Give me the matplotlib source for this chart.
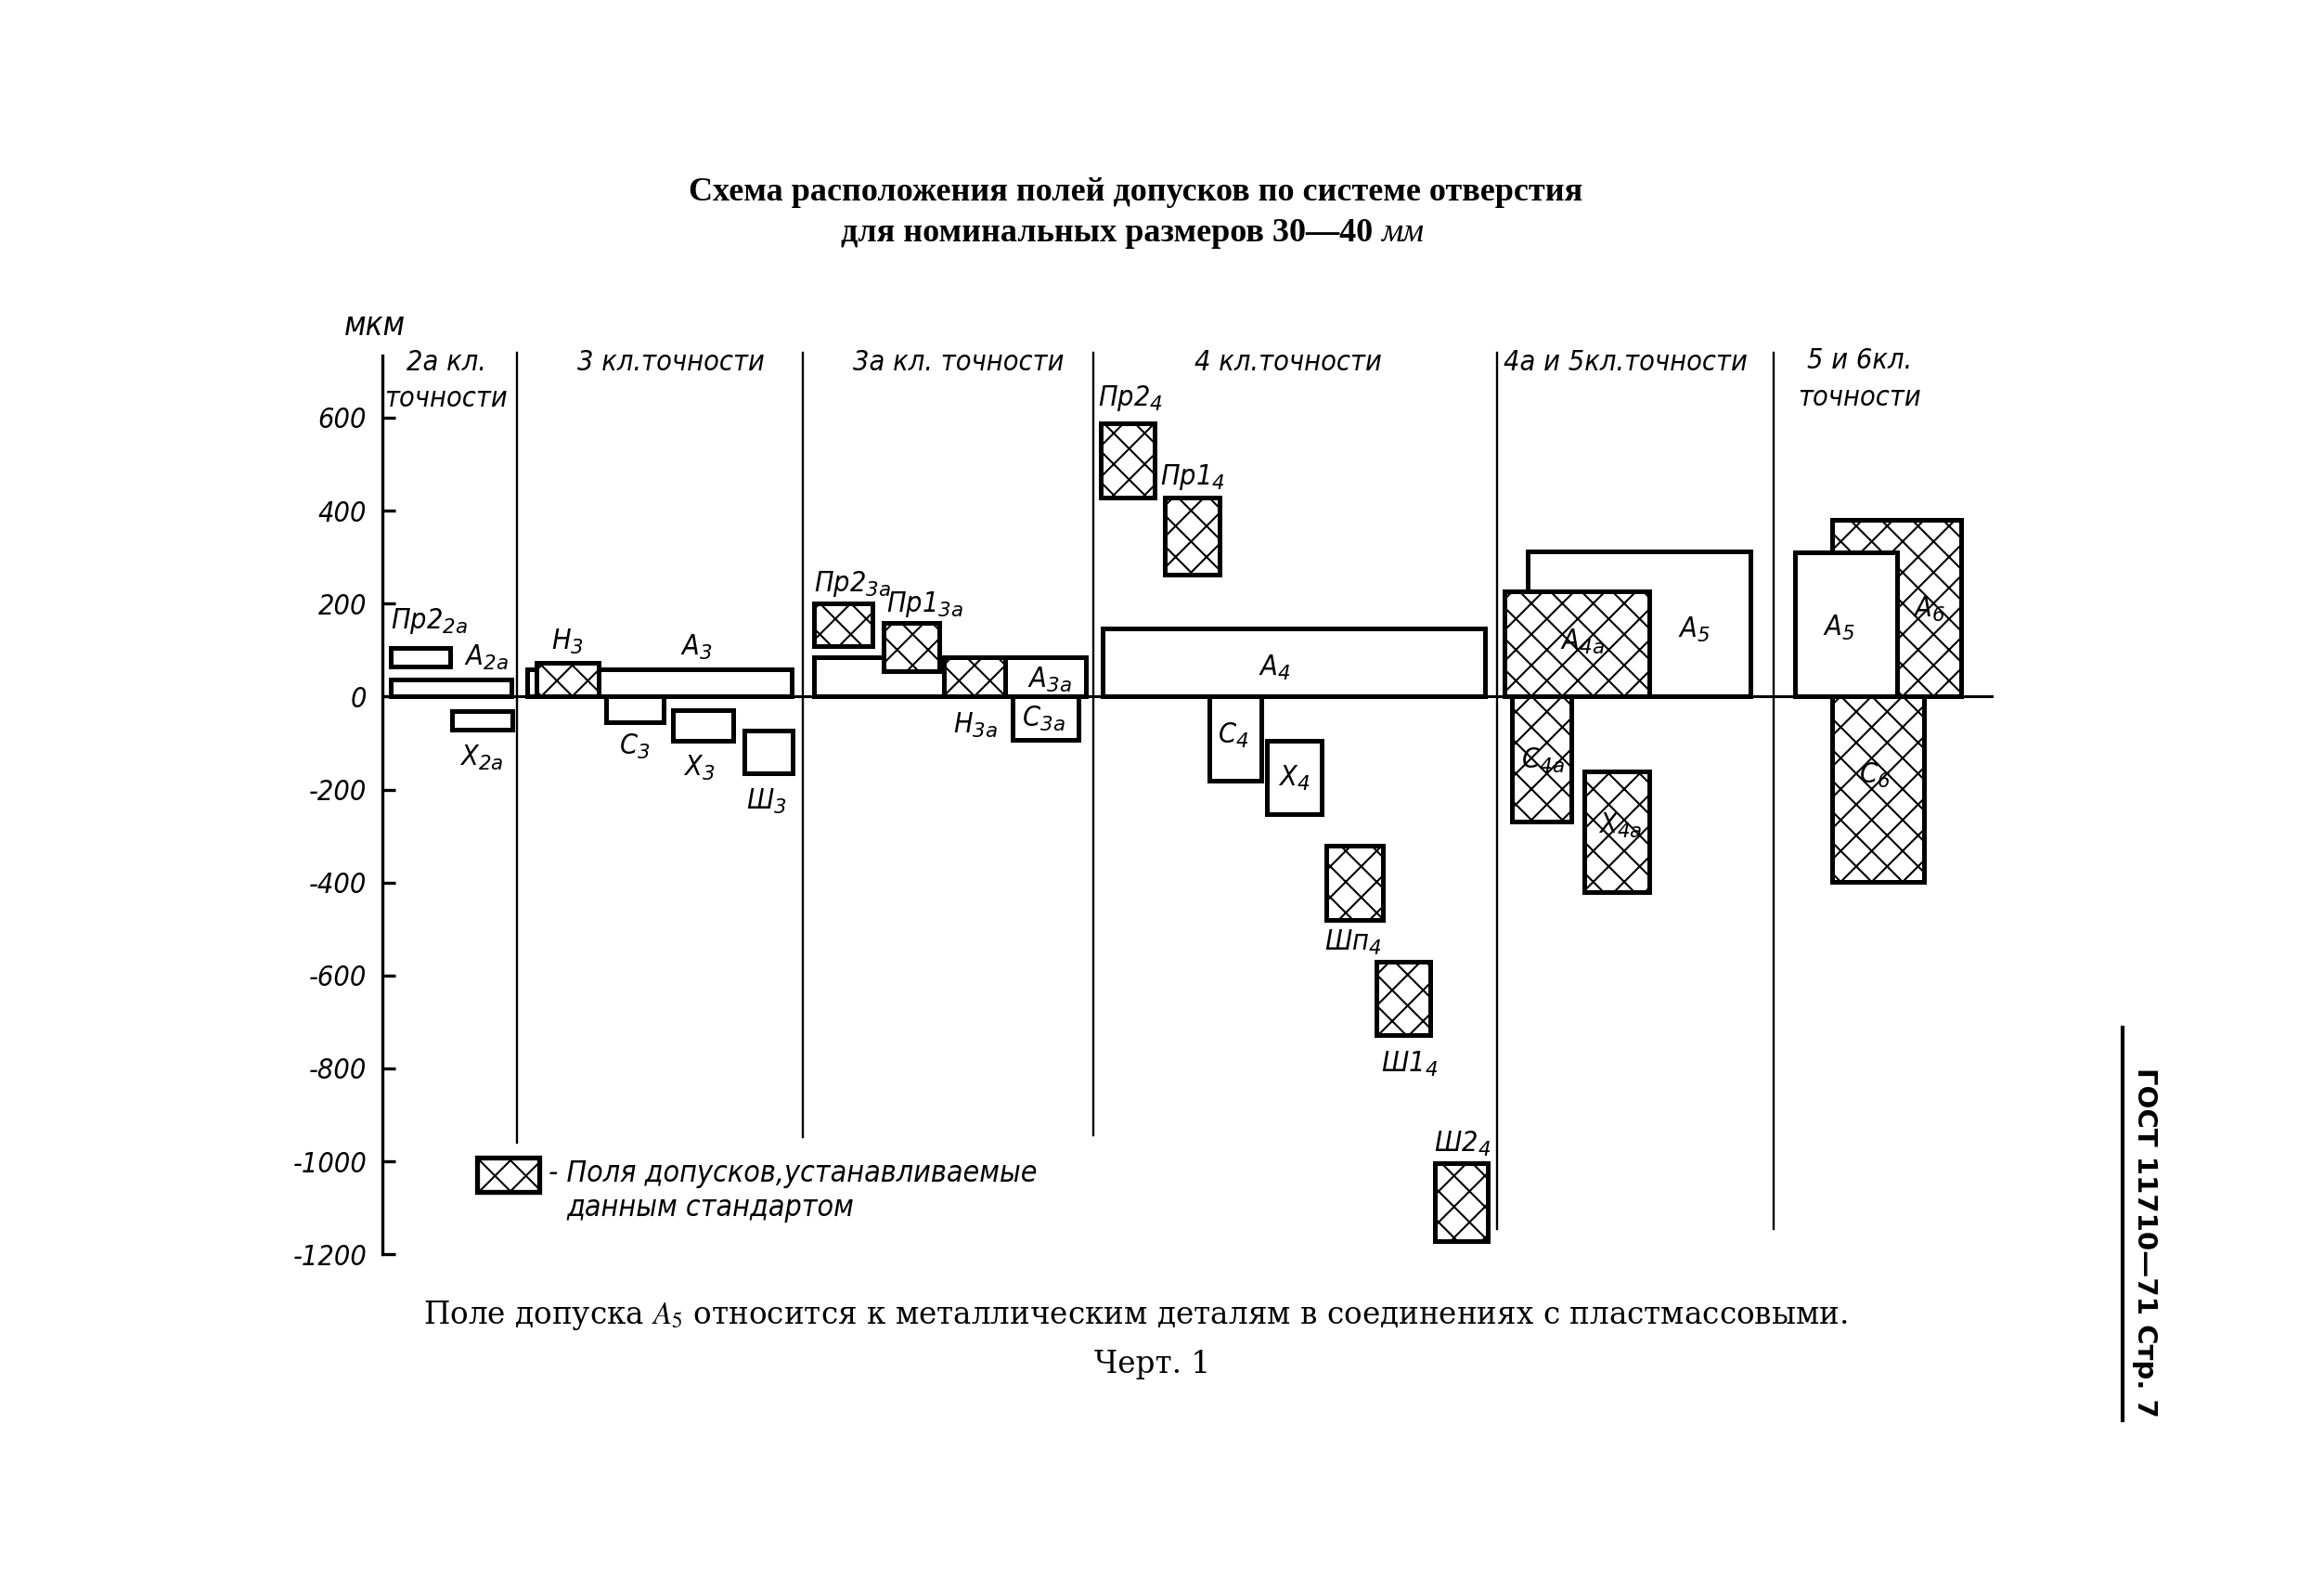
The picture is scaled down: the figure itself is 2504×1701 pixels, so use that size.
import matplotlib
matplotlib.use("Agg")
import matplotlib.pyplot as plt
from matplotlib.patches import Rectangle
from matplotlib.lines import Line2D
from matplotlib import font_manager

# Поля допусков для размеров 30-40 мм (мкм): обозначение, индекс, верх, низ
names = ["Пр2", "A", "X", "A", "H", "C", "X", "Ш",
         "A", "Пр2", "Пр1", "H", "C",
         "Пр2", "Пр1", "A", "C", "X", "Шп", "Ш1", "Ш2",
         "A", "A", "C", "X",
         "A", "A", "C"]
subs = ["2a", "2a", "2a", "3", "3", "3", "3", "3",
        "3a", "3a", "3a", "3a", "3a",
        "4", "4", "4", "4", "4", "4", "4", "4",
        "5", "4a", "4a", "4a",
        "5", "6", "6"]
upper = [104, 37, -31, 58, 72, 0, -30, -74,
         84, 200, 158, 84, 0,
         588, 429, 146, 0, -96, -321, -571, -1004,
         313, 227, 0, -160,
         310, 380, 0]
lower = [65, 0, -72, 0, 0, -56, -95, -164,
         0, 109, 55, 0, -93,
         428, 263, 0, -180, -253, -480, -729, -1172,
         0, 0, -268, -421,
         0, 0, -398]
# 1 - поле, устанавливаемое стандартом (штриховка)
standard = [0, 0, 0, 0, 1, 0, 0, 0,
            0, 1, 1, 1, 0,
            1, 1, 0, 0, 0, 1, 1, 1,
            0, 1, 1, 1,
            0, 1, 1]

groups = ["2а кл.\nточности", "3 кл.точности", "3а кл. точности",
          "4 кл.точности", "4а и 5кл.точности", "5 и 6кл.\nточности"]
yticks = [-1200, -1000, -800, -600, -400, -200, 0, 200, 400, 600]

# раскладка по горизонтали (условные единицы чертежа)
x_left = [6, 6, 47, 98, 104, 151, 196, 244,
          291, 291, 338, 379, 425,
          485, 528, 486, 558, 597, 637, 671, 710,
          773, 757, 762, 811,
          953, 978, 978]
x_right = [46, 87, 88, 276, 146, 190, 237, 277,
           475, 331, 376, 420, 470,
           521, 565, 744, 593, 634, 675, 707, 746,
           923, 855, 802, 855,
           1022, 1065, 1040]
lab_x = [32, 70, 67, 212, 125, 170, 214, 259,
         450, 317, 366, 400, 446,
         505, 547, 602, 574, 615, 655, 693, 729,
         885, 810, 783, 835,
         983, 1044, 1007]
lab_y = [163, 83, -131, 105, 118, -108, -153, -226,
         35, 242, 198, -61, -48,
         641, 472, 61, -83, -175, -530, -791, -963,
         144, 118, -137, -278,
         147, 188, -169]
div_x = [91, 284, 480, 752, 939]
div_bottom = [-960, -947, -944, -1145, -1145]
group_x = [43, 195, 389, 611, 839, 997]
group_y = [680, 718, 718, 718, 718, 683]

avail = {f.name for f in font_manager.fontManager.ttflist}
narrow = "Liberation Sans Narrow" if "Liberation Sans Narrow" in avail else "DejaVu Sans"
draw_font = dict(family=[narrow, "DejaVu Sans"], style="italic", stretch="condensed")

plt.rcParams["mathtext.fontset"] = "custom"
plt.rcParams["mathtext.rm"] = narrow + ":italic"
plt.rcParams["mathtext.it"] = narrow + ":italic"
plt.rcParams["hatch.linewidth"] = 1.5

fig = plt.figure(figsize=(25.04, 17.01), dpi=100)
ax = fig.add_axes([0.1645, 0.2056, 0.6932, 0.5690])
ax.set_xlim(0, 1087)
ax.set_ylim(-1200, 733)

for s in ["top", "right", "bottom"]:
    ax.spines[s].set_visible(False)
ax.spines["left"].set_linewidth(2.4)
ax.set_xticks([])
ax.set_yticks(yticks)
ax.set_yticklabels([str(v) for v in yticks], fontsize=22, **draw_font)
ax.tick_params(axis="y", direction="in", length=10, width=2.4, pad=12)

ax.axhline(0, color="black", lw=2.2, zorder=1)
for x, yb in zip(div_x, div_bottom):
    ax.plot([x, x], [yb, 740], color="black", lw=1.7, clip_on=False, zorder=1)

for i in range(len(names)):
    z = 3 if standard[i] else 2
    if names[i] == "A" and subs[i] == "5" and x_left[i] > 939:
        z = 4
    ax.add_patch(Rectangle((x_left[i], lower[i]), x_right[i] - x_left[i],
                           upper[i] - lower[i], facecolor="white", edgecolor="black",
                           hatch="x" if standard[i] else None, lw=3.6, zorder=z))
    ax.text(lab_x[i], lab_y[i], names[i] + "$_{" + subs[i] + "}$", fontsize=22,
            ha="center", va="center", zorder=6, **draw_font)

for gx, gy, g in zip(group_x, group_y, groups):
    ax.text(gx, gy, g, fontsize=22, ha="center", va="center", linespacing=1.45,
            clip_on=False, **draw_font)

ax.text(-5, 797, "мкм", fontsize=25, ha="center", va="center", clip_on=False, **draw_font)

# условное обозначение
ax.add_patch(Rectangle((64, -1065), 42, 73, facecolor="white", edgecolor="black",
                       hatch="x", lw=3.8, zorder=3))
ax.text(112, -1027, "- Поля допусков,устанавливаемые", fontsize=23, ha="left",
        va="center", **draw_font)
ax.text(124, -1100, "данным стандартом", fontsize=23, ha="left", va="center", **draw_font)

fig.text(0.4885, 0.878, "Схема расположения полей допусков по системе отверстия",
         ha="center", va="center", fontsize=26, fontweight="bold",
         family=["Liberation Serif", "DejaVu Serif"])
t2 = fig.text(0.478, 0.852, "для номинальных размеров 30—40 ", ha="center", va="center",
              fontsize=26, fontweight="bold", family=["Liberation Serif", "DejaVu Serif"])
ax.annotate("мм", xy=(1, 0), xycoords=t2, va="bottom", ha="left", fontsize=26,
            style="italic", family=["Liberation Serif", "DejaVu Serif"],
            annotation_clip=False)

fig.text(0.4885, 0.167, "Поле допуска $A_5$ относится к металлическим деталям в соединениях с пластмассовыми.",
         ha="center", va="center", fontsize=23.5, family=["DejaVu Serif"], math_fontfamily="stix")
fig.text(0.496, 0.136, "Черт. 1", ha="center", va="center", fontsize=23.5,
         family=["DejaVu Serif"])

fig.add_artist(Line2D([0.9133, 0.9133], [0.1005, 0.349], transform=fig.transFigure,
                      color="black", lw=3))
fig.text(0.9228, 0.213, "ГОСТ 11710—71 Стр. 7", rotation=-90, ha="center", va="center",
         fontsize=21, fontweight="bold", family=["DejaVu Sans"])

fig.savefig("out.png", dpi=100, facecolor="white")
